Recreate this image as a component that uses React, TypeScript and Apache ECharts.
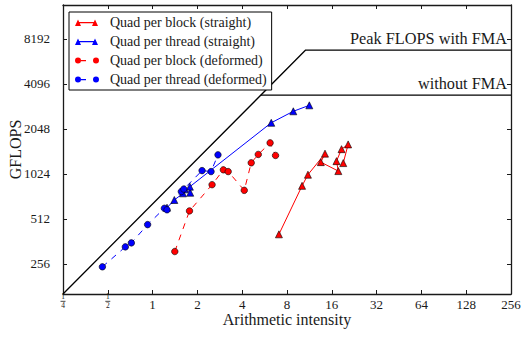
import React, { useEffect, useRef } from 'react';
import * as echarts from 'echarts';

// ---- roofline parameters ----
const BANDWIDTH = 645; // GB/s, slope of the diagonal roof
const PEAK_FMA = 6886; // GFLOPS
const PEAK_NO_FMA = 3443; // GFLOPS

// ---- axis ranges ----
const X_MIN = 0.25;
const X_MAX = 256;
const Y_MIN = BANDWIDTH * X_MIN;
const Y_MAX = 2 * PEAK_FMA;

// ---- right axis tick texts ----
const rightTickValues = [8192, 4096];
const rightTickTexts = ['Peak FLOPS with FMA', 'without FMA'];

// ---- series names ----
const seriesNames = [
  'Quad per block (straight)',
  'Quad per thread (straight)',
  'Quad per block (deformed)',
  'Quad per thread (deformed)',
];

// ---- data: arithmetic intensity (x) and GFLOPS (y) ----
const blockStraightX = [7.06, 10.1, 11.06, 14.4, 13.5, 17.7, 17.2, 18.6, 20.6, 19.1];
const blockStraightY = [404, 852, 1011, 1398, 1227, 1069, 1246, 1498, 1612, 1209];

const threadStraightX = [1.25, 1.4, 1.6, 1.64, 1.79, 1.78, 6.27, 8.82, 11.3];
const threadStraightY = [609, 685, 759, 807, 766, 841, 2248, 2683, 2941];

const blockDeformedX = [1.41, 1.77, 2.51, 2.99, 3.22, 4.13, 4.6, 5.13, 6.16, 6.7];
const blockDeformedY = [310, 579, 867, 1090, 1061, 795, 1214, 1381, 1650, 1360];

const threadDeformedX = [0.46, 0.656, 0.72, 0.926, 1.2, 1.25, 1.56, 1.62, 2.15, 2.47, 2.75];
const threadDeformedY = [245, 333, 354, 469, 603, 589, 780, 811, 1077, 1061, 1372];

const roofX = [X_MIN, PEAK_FMA / BANDWIDTH, X_MAX];
const roofY = [Y_MIN, PEAK_FMA, PEAK_FMA];
const noFmaX = [PEAK_NO_FMA / BANDWIDTH, X_MAX];
const noFmaY = [PEAK_NO_FMA, PEAK_NO_FMA];

const FONT = "'Liberation Serif', 'Times New Roman', serif";
const TEXT = '#1a1a1a';
const AXIS = '#1a1a1a';
const RED = '#ff0000';
const BLUE = '#0000ff';

const pairs = (xs: number[], ys: number[]) => xs.map((x, i) => [x, ys[i]]);

const pow2 = (v: number): number | null => {
  const l = Math.log2(v);
  const r = Math.round(l);
  return Math.abs(l - r) < 0.02 ? r : null;
};

const TRI_ICON =
  'path://M0,0L0,8L0,0Z M30,0L30,8L30,0Z M0,7.5L3,1L6,7.5Z M3,3.6L20,3.6L20,4.8L3,4.8Z M17,7.5L20,1L23,7.5Z';
const CIRC_ICON =
  'path://M0,0L0,8L0,0Z M30,0L30,8L30,0Z M0,4A3,3,0,1,0,6,4A3,3,0,1,0,0,4Z M6,3.5L11,3.5L11,4.7L6,4.7Z M18,4A3,3,0,1,0,24,4A3,3,0,1,0,18,4Z';

export default function App() {
  const ref = useRef<HTMLDivElement>(null);

  useEffect(() => {
    if (!ref.current) return;
    const chart = echarts.init(ref.current, undefined, { renderer: 'svg' });

    const axisLine = { show: true, lineStyle: { color: AXIS, width: 1.3 } };
    const axisTick = { show: true, inside: true, length: 4, lineStyle: { color: AXIS, width: 1 } };

    const xBase = {
      type: 'log' as const,
      logBase: 2,
      min: X_MIN * 1.0002,
      max: X_MAX * 0.9998,
      splitNumber: 10,
      splitLine: { show: false },
      axisLine,
      axisTick,
    };
    const yBase = {
      type: 'log' as const,
      logBase: 2,
      min: Y_MIN,
      max: Y_MAX,
      splitNumber: 10,
      splitLine: { show: false },
      axisLine,
      axisTick,
    };

    const markerStyle = (c: string) => ({ color: c, borderColor: '#000', borderWidth: 0.6 });

    chart.setOption({
      animation: false,
      backgroundColor: '#fff',
      grid: {
        left: 63,
        top: 5,
        width: 448,
        height: 289,
        containLabel: false,
        outerBoundsMode: 'none',
      },
      xAxis: [
        {
          ...xBase,
          position: 'bottom',
          name: 'Arithmetic intensity',
          nameLocation: 'middle',
          nameGap: 17,
          nameMoveOverlap: false,
          nameTextStyle: { fontFamily: FONT, fontSize: 16, color: TEXT },
          axisLabel: {
            margin: -1,
            showMinLabel: true,
            showMaxLabel: true,
            fontFamily: FONT,
            fontSize: 13,
            color: TEXT,
            formatter: (v: number) => {
              const p = pow2(v);
              if (p === null) return '';
              if (p < 0) return `{n|1}\n{b| }\n{d|${Math.pow(2, -p)}}`;
              return `{r|${Math.pow(2, p)}}`;
            },
            rich: {
              r: { fontFamily: FONT, fontSize: 13, lineHeight: 22, color: TEXT },
              n: { fontFamily: FONT, fontSize: 7.5, lineHeight: 7.5, color: TEXT },
              b: { fontSize: 1, width: 5, height: 0.8, lineHeight: 1.5, backgroundColor: TEXT },
              d: { fontFamily: FONT, fontSize: 7.5, lineHeight: 7.5, color: TEXT },
            },
          },
        },
        {
          ...xBase,
          position: 'top',
          axisLabel: { show: false },
        },
      ],
      yAxis: [
        {
          ...yBase,
          position: 'left',
          name: 'GFLOPS',
          nameLocation: 'middle',
          nameGap: 40,
          nameMoveOverlap: false,
          nameTextStyle: { fontFamily: FONT, fontSize: 16, color: TEXT },
          axisLabel: {
            margin: 13,
            fontFamily: FONT,
            fontSize: 13,
            color: TEXT,
            formatter: (v: number) => {
              const p = pow2(v);
              return p === null ? '' : String(Math.pow(2, p));
            },
          },
        },
        {
          ...yBase,
          position: 'right',
          axisLabel: {
            inside: true,
            margin: 4,
            fontFamily: FONT,
            fontSize: 16.3,
            color: TEXT,
            formatter: (v: number) => {
              const p = pow2(v);
              if (p === null) return '';
              const i = rightTickValues.indexOf(Math.pow(2, p));
              return i >= 0 ? rightTickTexts[i] : '';
            },
          },
        },
      ],
      legend: {
        orient: 'vertical',
        left: 69,
        top: 12,
        padding: [3.5, 5, 3.5, 6],
        itemGap: 5,
        itemWidth: 30,
        itemHeight: 8,
        backgroundColor: '#fff',
        borderColor: '#000',
        borderWidth: 1,
        borderRadius: 0,
        selectedMode: false,
        itemStyle: { borderWidth: 0 },
        textStyle: { fontFamily: FONT, fontSize: 14, color: TEXT, lineHeight: 14 },
        data: [
          { name: seriesNames[0], icon: TRI_ICON },
          { name: seriesNames[1], icon: TRI_ICON },
          { name: seriesNames[2], icon: CIRC_ICON },
          { name: seriesNames[3], icon: CIRC_ICON },
        ],
      },
      series: [
        {
          name: 'roof',
          type: 'line',
          data: pairs(roofX, roofY),
          symbol: 'none',
          silent: true,
          lineStyle: { color: '#000', width: 1.3 },
          z: 1,
        },
        {
          name: 'roof-nofma',
          type: 'line',
          data: pairs(noFmaX, noFmaY),
          symbol: 'none',
          silent: true,
          lineStyle: { color: '#000', width: 1.3 },
          z: 1,
        },
        {
          name: seriesNames[0],
          type: 'line',
          data: pairs(blockStraightX, blockStraightY),
          symbol: 'triangle',
          symbolSize: 7,
          lineStyle: { color: RED, width: 1 },
          itemStyle: markerStyle(RED),
          z: 2,
        },
        {
          name: seriesNames[1],
          type: 'line',
          data: pairs(threadStraightX, threadStraightY),
          symbol: 'triangle',
          symbolSize: 7,
          lineStyle: { color: BLUE, width: 1 },
          itemStyle: markerStyle(BLUE),
          z: 2,
        },
        {
          name: seriesNames[2],
          type: 'line',
          data: pairs(blockDeformedX, blockDeformedY),
          symbol: 'circle',
          symbolSize: 6.5,
          lineStyle: { color: RED, width: 1, type: [6, 6] },
          itemStyle: markerStyle(RED),
          z: 2,
        },
        {
          name: seriesNames[3],
          type: 'line',
          data: pairs(threadDeformedX, threadDeformedY),
          symbol: 'circle',
          symbolSize: 6.5,
          lineStyle: { color: BLUE, width: 1, type: [6, 6] },
          itemStyle: markerStyle(BLUE),
          z: 2,
        },
      ],
    });

    return () => chart.dispose();
  }, []);

  return (
    <div
      ref={ref}
      style={{ position: 'absolute', left: 0, top: 0, width: 524, height: 340, background: '#fff' }}
    />
  );
}
